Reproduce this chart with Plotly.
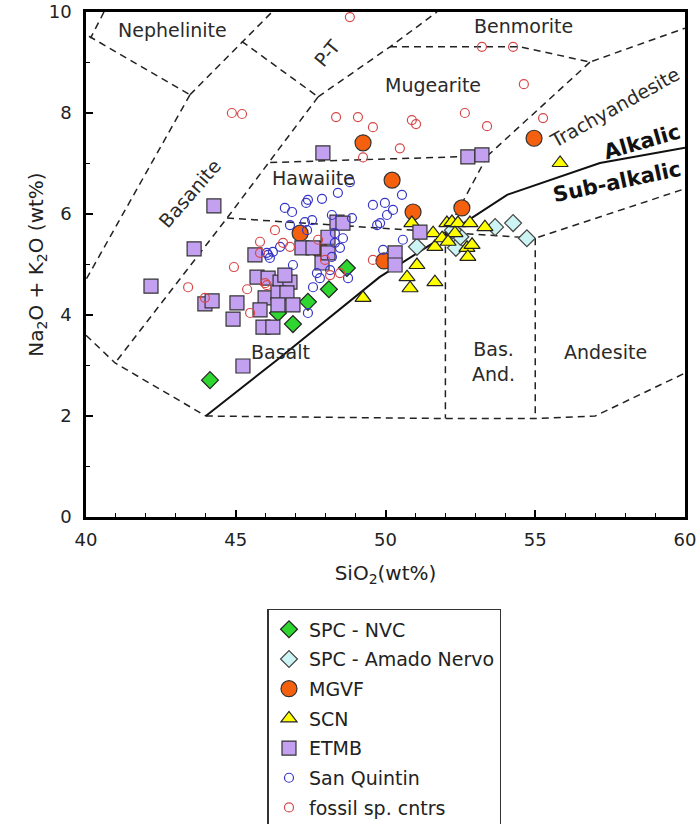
import plotly.graph_objects as go

# ---------------- data ----------------
NVC_X = [44.14, 46.91, 47.41, 48.11, 48.71, 46.41]
NVC_Y = [2.71, 3.82, 4.26, 4.51, 4.93, 4.04]

AMADO_X = [51.05, 52.35, 52.50, 52.25, 53.66, 54.26, 54.72]
AMADO_Y = [5.35, 5.33, 5.55, 5.68, 5.74, 5.82, 5.52]

MGVF_X = [47.15, 47.80, 49.25, 49.95, 50.22, 50.92, 52.55, 54.96]
MGVF_Y = [5.62, 5.30, 7.41, 5.07, 6.67, 6.04, 6.12, 7.50]

SCN_X = [55.83, 49.25, 51.05, 50.72, 50.82, 51.65, 50.88, 51.59, 51.65, 52.05,
         52.22, 52.42, 52.32, 52.82, 53.32, 52.72, 52.89, 52.75, 51.89, 52.09]
SCN_Y = [7.01, 4.34, 4.99, 4.75, 4.53, 4.65, 5.82, 5.62, 5.35, 5.82,
         5.84, 5.82, 5.62, 5.82, 5.74, 5.33, 5.39, 5.15, 5.52, 5.45]

ETMB_X = [42.17, 43.61, 44.27, 43.97, 44.21, 45.04, 44.91, 45.24, 45.64, 45.71,
          46.08, 46.48, 46.81, 46.64, 45.98, 46.41, 46.71, 45.81, 46.41, 46.91,
          45.91, 46.24, 47.21, 47.58, 48.08, 47.88, 48.08, 48.38, 48.58, 47.91,
          52.75, 53.22, 51.15, 50.32, 50.32]
ETMB_Y = [4.57, 5.31, 6.16, 4.22, 4.28, 4.24, 3.92, 2.99, 5.19, 4.75,
          4.73, 4.65, 4.65, 4.79, 4.34, 4.44, 4.44, 4.10, 4.20, 4.20,
          3.76, 3.76, 5.33, 5.33, 5.54, 5.03, 5.23, 5.84, 5.82, 7.21,
          7.13, 7.17, 5.64, 5.23, 4.99]

SQ_X = [46.64, 46.88, 47.41, 47.88, 47.35, 48.41, 48.81, 49.58, 50.05, 46.81,
        47.31, 47.55, 47.38, 48.21, 49.72, 48.31, 48.58, 48.31, 46.24, 46.04,
        46.14, 46.91, 48.21, 48.48, 47.71, 48.15, 47.81, 47.58, 48.75, 47.41,
        49.92, 50.25, 49.98, 50.55, 49.82, 50.58, 46.08, 46.48, 48.88]
SQ_Y = [6.12, 6.04, 6.28, 6.30, 6.22, 6.42, 6.63, 6.18, 5.98, 5.78,
        5.84, 5.88, 5.68, 5.98, 5.78, 5.62, 5.52, 5.43, 5.25, 5.23,
        5.13, 4.99, 5.15, 5.33, 4.83, 4.89, 4.73, 4.55, 4.73, 4.04,
        5.29, 6.08, 6.22, 6.38, 5.82, 5.49, 5.19, 5.35, 5.92]

FOS_X = [48.81, 44.87, 45.21, 48.35, 49.08, 49.58, 49.25, 53.22, 54.26, 54.62,
         52.65, 53.39, 55.26, 50.88, 51.02, 50.48, 46.31, 45.81, 46.81, 44.94,
         43.41, 43.97, 45.38, 45.48, 45.81, 45.98, 46.58, 47.75, 47.98, 48.48,
         48.15, 46.04, 49.58]
FOS_Y = [9.90, 8.00, 7.98, 7.92, 7.92, 7.72, 7.12, 9.31, 9.31, 8.57,
         8.00, 7.74, 7.90, 7.86, 7.78, 7.30, 5.68, 5.45, 5.35, 4.95,
         4.55, 4.34, 4.51, 4.04, 5.23, 4.63, 5.43, 5.49, 5.09, 4.83,
         4.79, 4.59, 5.09]

# field boundaries (dashed) and alkalic / sub-alkalic divide (solid)
BOUNDARIES = [
    ([40.60, 40.15], [10.0, 9.48]),
    ([40.10, 43.47], [9.52, 8.36]),
    ([43.47, 46.21], [8.36, 10.0]),
    ([45.20, 47.75], [9.42, 8.32]),
    ([47.75, 50.15, 51.72], [8.32, 9.31, 10.0]),
    ([43.47, 40.00], [8.36, 4.70]),
    ([47.75, 44.71, 40.97], [8.32, 5.92, 3.05]),
    ([40.00, 40.97, 44.00], [3.60, 3.05, 2.00]),
    ([44.00, 52.00, 55.00, 57.00, 60.00], [2.00, 1.95, 1.95, 2.00, 2.85]),
    ([46.15, 53.40], [7.02, 7.15]),
    ([53.40, 52.00], [7.15, 5.60]),
    ([52.00, 52.00], [5.60, 1.95]),
    ([44.71, 55.00, 60.00], [5.92, 5.52, 6.50]),
    ([55.00, 55.00], [5.52, 1.95]),
    ([50.15, 54.49, 56.83, 60.00], [9.31, 9.31, 9.01, 9.68]),
    ([53.40, 56.83], [7.15, 9.01]),
]
ALK_X = [44.0, 46.4, 49.8, 52.0, 54.06, 57.16, 60.0]
ALK_Y = [2.0, 3.12, 4.75, 5.58, 6.38, 7.01, 7.31]

LABELS = ["Nephelinite", "P-T", "Benmorite", "Mugearite", "Trachyandesite",
          "Hawaiite", "Basanite", "Basalt", "Bas.<br>And.", "Andesite"]
LABEL_X = [42.9, 48.05, 54.6, 51.6, 57.66, 47.58, 43.47, 46.48, 53.59, 57.33]
LABEL_Y = [9.64, 9.19, 9.72, 8.55, 8.12, 6.71, 6.42, 3.27, 3.07, 3.27]
LABEL_ANGLE = [0, -50, 0, 0, -29, 0, -49, 0, 0, 0]

FONT = "DejaVu Sans"

fig = go.Figure()

for bx, by in BOUNDARIES:
    fig.add_trace(go.Scatter(x=bx, y=by, mode="lines",
                             line=dict(color="#222", width=1.5, dash="7px,5px"),
                             showlegend=False, hoverinfo="skip"))
fig.add_trace(go.Scatter(x=ALK_X, y=ALK_Y, mode="lines",
                         line=dict(color="#111", width=2),
                         showlegend=False, hoverinfo="skip"))

series = [
    ("SPC - NVC", NVC_X, NVC_Y, dict(symbol="diamond", size=13, color="#2fd62f",
                                     line=dict(color="#222", width=1.2))),
    ("SPC - Amado Nervo", AMADO_X, AMADO_Y, dict(symbol="diamond", size=13, color="#cdf4f4",
                                                 line=dict(color="#444", width=1.2))),
    ("MGVF", MGVF_X, MGVF_Y, dict(symbol="circle", size=16, color="#f5600f",
                                  line=dict(color="#333", width=1.2))),
    ("SCN", SCN_X, SCN_Y, dict(symbol="triangle-up", size=14, color="#ffff00",
                               line=dict(color="#222", width=1.2))),
    ("ETMB", ETMB_X, ETMB_Y, dict(symbol="square", size=14, color="#c4a0f0",
                                  line=dict(color="#333", width=1.2))),
    ("San Quintin", SQ_X, SQ_Y, dict(symbol="circle-open", size=9, color="#3535c8",
                                     line=dict(width=1.2))),
    ("fossil sp. cntrs", FOS_X, FOS_Y, dict(symbol="circle-open", size=9, color="#d84848",
                                            line=dict(width=1.2))),
]
for name, xs, ys, mk in series:
    fig.add_trace(go.Scatter(x=xs, y=ys, mode="markers", name=name, marker=mk,
                             legendgroup=name))

for t, x, y, a in zip(LABELS, LABEL_X, LABEL_Y, LABEL_ANGLE):
    fig.add_annotation(x=x, y=y, text=t, showarrow=False, textangle=a,
                       font=dict(family=FONT, size=19, color="#2a2a2a"))
fig.add_annotation(x=58.56, y=7.42, text="<b>Alkalic</b>", showarrow=False, textangle=-16,
                   font=dict(family=FONT, size=21, color="#111"))
fig.add_annotation(x=57.73, y=6.63, text="<b>Sub-alkalic</b>", showarrow=False, textangle=-12,
                   font=dict(family=FONT, size=21, color="#111"))

axis_common = dict(showline=True, linecolor="black", linewidth=2.5, mirror=True,
                   ticks="inside", ticklen=7, tickwidth=1.5, tickcolor="black",
                   showgrid=False, zeroline=False, ticklabeloverflow="allow",
                   tickfont=dict(family=FONT, size=18, color="#222"))
fig.update_xaxes(range=[40, 60], tick0=40, dtick=5, ticklabelstandoff=5,
                 minor=dict(ticks="inside", ticklen=4, tickwidth=1.2, dtick=1, tickcolor="black"),
                 title=dict(text="SiO<sub>2</sub>(wt%)", font=dict(family=FONT, size=20, color="#222"),
                            standoff=17),
                 **axis_common)
fig.update_yaxes(range=[0, 10], tick0=0, dtick=2, ticklabelstandoff=8,
                 minor=dict(ticks="inside", ticklen=4, tickwidth=1.2, dtick=1, tickcolor="black"),
                 title=dict(text="Na<sub>2</sub>O + K<sub>2</sub>O (wt%)",
                            font=dict(family=FONT, size=20, color="#222"), standoff=0),
                 **axis_common)

fig.update_layout(
    width=697, height=824,
    margin=dict(l=86, r=12, t=12, b=307, autoexpand=False),
    plot_bgcolor="white", paper_bgcolor="white",
    legend=dict(x=0.303, y=-0.182, xanchor="left", yanchor="top",
                bordercolor="#333", borderwidth=1.5, bgcolor="white",
                font=dict(family=FONT, size=19, color="#222"),
                tracegroupgap=2, itemsizing="trace"),
)

# remove the default 8px page margin so the figure fills the window exactly
fig.write_html("out.html", config={"displayModeBar": False},
               post_script="document.body.style.margin='0px';")
